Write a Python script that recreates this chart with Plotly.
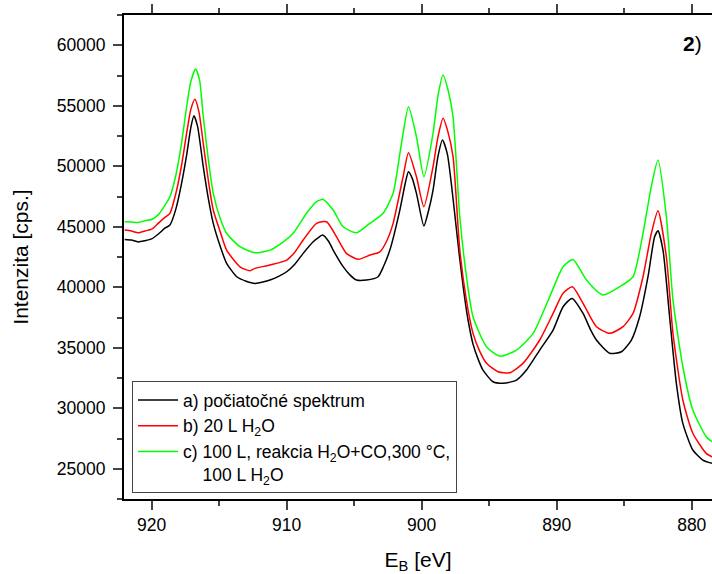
import plotly.graph_objects as go

# ---- data (binding energy in eV, intensity in cps) ----
e_a = [922.0, 921.5, 921.0, 920.5, 920.0, 919.5, 919.0, 918.65, 918.2, 917.8, 917.4, 917.1,
       916.87, 916.6, 916.18, 915.8, 915.44, 914.9, 914.45, 913.7, 913.0, 912.35, 911.7,
       911.24, 910.6, 910.0, 909.4, 908.78, 908.04, 907.6, 907.34, 906.9, 906.56, 905.82,
       905.3, 904.83, 904.09, 903.23, 902.8, 902.36, 901.62, 901.2, 900.98, 900.7, 900.39,
       899.84, 899.5, 899.16, 898.8, 898.46, 898.1, 897.8, 897.5, 897.2, 896.9, 896.6,
       896.2, 895.8, 895.46, 894.72, 893.98, 893.3, 892.98, 892.24, 891.26, 890.27,
       889.53, 888.87, 888.05, 887.5, 887.06, 886.08, 885.21, 884.47, 883.86, 883.24,
       882.75, 882.5, 882.13, 881.64, 881.14, 880.66, 879.92, 879.18, 878.5]
i_a = [43950, 43900, 43750, 43850, 44000, 44400, 44900, 45140, 46500, 48500, 51000, 53200,
       54170, 53300, 49960, 47300, 45280, 43300, 41980, 40870, 40500, 40320, 40450,
       40600, 40900, 41280, 41900, 42800, 43760, 44150, 44310, 43800, 43070, 41700,
       41000, 40600, 40600, 40870, 41800, 43070, 46380, 48700, 49550, 49000, 47760,
       45060, 46300, 48030, 50800, 52170, 51000, 48500, 45500, 42500, 39800, 37500,
       35300, 34000, 33150, 32190, 32060, 32200, 32330, 33160, 34810, 36460,
       38390, 39080, 37840, 36500, 35640, 34540, 34670, 35640, 37560, 40870,
       44170, 44670, 43070, 37560, 32060, 28750, 26550, 25720, 25450]

e_b = [922.0, 921.5, 921.0, 920.5, 920.0, 919.5, 919.0, 918.65, 918.2, 917.8, 917.4, 917.1,
       916.8, 916.5, 916.18, 915.8, 915.44, 914.9, 914.45, 913.46, 912.72, 912.35, 911.24,
       910.0, 909.4, 908.78, 907.79, 907.05, 906.31, 905.57, 904.71, 903.84, 903.1,
       902.6, 902.12, 901.38, 900.98, 900.39, 899.84, 899.16, 898.8, 898.42, 898.05, 897.68,
       897.18, 896.7, 896.2, 895.7, 895.2, 894.35, 893.49, 892.5, 891.26, 890.27, 889.53,
       888.84, 888.05, 887.06, 886.08, 885.09, 884.35, 883.61, 882.99, 882.5, 881.88,
       881.39, 880.66, 879.92, 878.93, 878.5]
i_b = [44730, 44650, 44500, 44650, 44800, 45300, 45800, 46110, 47800, 50000, 52800, 54700,
       55530, 54500, 51890, 48800, 46380, 44500, 43070, 41690, 41360, 41560, 41840,
       42250, 42900, 43900, 45280, 45410, 44170, 42800, 42310, 42660, 42930,
       43800, 45280, 49130, 51120, 49130, 46650, 49960, 52400, 53960, 52800, 50790,
       43070, 39000, 36190, 34700, 33710, 33020, 32930, 33710, 35640, 37840, 39500,
       40040, 38670, 36740, 36190, 36740, 37840, 40870, 44460, 46320, 42520,
       36190, 30680, 27930, 26270, 25990]

e_c = [922.0, 921.5, 921.0, 920.5, 920.0, 919.5, 919.0, 918.65, 918.2, 917.8, 917.4, 917.1,
       916.74, 916.45, 916.18, 915.8, 915.44, 914.9, 914.45, 913.46, 912.35, 911.24, 910.4,
       909.52, 908.53, 907.79, 907.3, 906.56, 905.82, 904.83, 903.84, 902.86, 902.12,
       901.5, 900.98, 900.39, 899.84, 899.16, 898.8, 898.42, 898.05, 897.68, 897.18,
       896.7, 896.2, 895.2, 894.22, 892.98, 891.75, 890.52, 889.53, 888.8, 887.8, 886.57,
       885.34, 884.35, 883.61, 883.0, 882.5, 881.88, 881.39, 880.66, 879.92, 878.93, 878.5]
i_c = [45420, 45400, 45350, 45500, 45600, 46000, 46800, 47480, 49300, 51800, 55000, 57000,
       58030, 57100, 54090, 50500, 47760, 45600, 44460, 43350, 42850, 43070, 43630,
       44460, 46110, 47070, 47260, 46380, 45000, 44500, 45280, 46110, 47760,
       51890, 54920, 52440, 49130, 52720, 55800, 57540, 56300, 54090, 45830,
       41000, 37560, 35080, 34310, 34810, 36190, 39220, 41690, 42300, 40600, 39360,
       40040, 40870, 44460, 48300, 50510, 45830, 38940, 33430, 29850, 27650, 27230]

names = [
    "a) počiatočné spektrum",
    "b) 20 L H<sub>2</sub>O",
    "c) 100 L, reakcia H<sub>2</sub>O+CO,300 °C,<br>\u00a0\u00a0\u00a0\u00a0100 L H<sub>2</sub>O",
]
colors = ["#000000", "#ff0000", "#00ff00"]

FONT = "Liberation Sans, Arial, sans-serif"

fig = go.Figure()
for e, i, n, c in zip([e_a, e_b, e_c], [i_a, i_b, i_c], names, colors):
    fig.add_trace(go.Scatter(x=e, y=i, mode="lines", name=n,
                             line=dict(color=c, width=1.5, shape="spline", smoothing=0.6)))

fig.update_layout(
    width=712, height=574,
    margin=dict(l=124, r=0, t=15, b=75),
    paper_bgcolor="white", plot_bgcolor="white",
    font=dict(family=FONT, size=17, color="black"),
    showlegend=True,
    legend=dict(x=0.0136, y=0.2438, xanchor="left", yanchor="top",
                bordercolor="#444444", borderwidth=1, bgcolor="white",
                font=dict(family=FONT, size=17.5), valign="top",
                tracegroupgap=0, itemwidth=40),
    xaxis=dict(range=[922.05, 878.5], tick0=880, dtick=10, ticks="outside", ticklen=9,
               tickwidth=1.5, showline=True, linewidth=2, linecolor="black", mirror="ticks",
               showgrid=False, zeroline=False, tickfont=dict(size=17.5),
               minor=dict(dtick=5, ticks="outside", ticklen=5, tickwidth=1.5, showgrid=False),
               title=dict(text="E<sub>B</sub> [eV]", font=dict(size=21), standoff=19)),
    yaxis=dict(range=[22500, 62500], tick0=25000, dtick=5000, tickformat="d",
               ticks="outside", ticklen=9, ticklabelstandoff=4,
               tickwidth=1.5, showline=True, linewidth=2, linecolor="black", mirror=False,
               showgrid=False, zeroline=False, tickfont=dict(size=17.5),
               minor=dict(dtick=2500, ticks="outside", ticklen=5, tickwidth=1.5, showgrid=False),
               title=dict(text="Intenzita [cps.]", font=dict(size=21), standoff=22)),
    annotations=[dict(x=0.966, y=0.942, xref="paper", yref="paper", showarrow=False,
                      xanchor="center", yanchor="middle",
                      text="<b>2</b>)", font=dict(size=21, family=FONT))],
)

fig.write_html("out.html")
